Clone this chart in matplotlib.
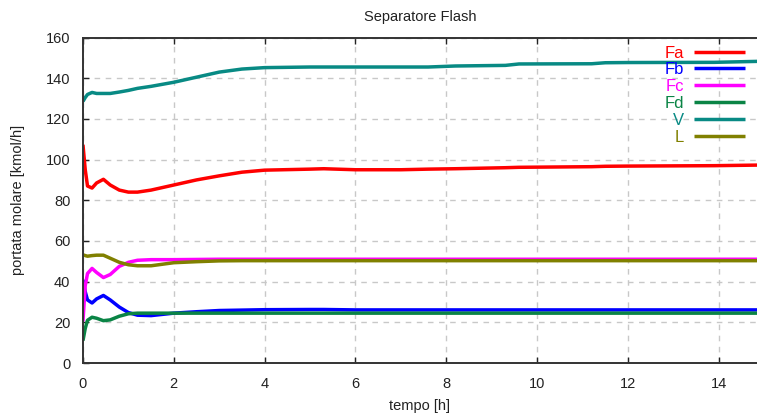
import numpy as np
import matplotlib.pyplot as plt

plt.rcParams['font.family'] = ['Liberation Sans Narrow', 'Liberation Sans', 'DejaVu Sans']

# tempo [h]
t = [0, 0.05, 0.1, 0.2, 0.3, 0.45, 0.6, 0.8, 1.0, 1.2, 1.5, 2.0, 2.5, 3.0, 3.5,
     4.0, 5.0, 5.3, 6.0, 7.0, 7.6, 8.2, 9.3, 9.6, 11.2, 11.5, 12.0, 13.9, 14.9]

# portate molari [kmol/h]
Fa = [107.3, 95, 87, 86, 88.5, 90.3, 87.5, 85, 84, 84, 85, 87.5, 90, 92, 93.8,
      94.8, 95.3, 95.5, 95, 95, 95.3, 95.5, 96, 96.2, 96.5, 96.7, 96.8, 97, 97.3]
Fb = [40.9, 35, 31, 29.5, 31.5, 33.2, 31, 27.5, 24.8, 23.5, 23.3, 24.5, 25.2, 25.8, 26,
      26.2, 26.3, 26.3, 26.1, 26.1, 26.1, 26.1, 26.1, 26.1, 26.1, 26.1, 26.1, 26.1, 26.1]
Fc = [20.5, 38, 44, 46.5, 44.5, 42, 43.5, 47.5, 49.5, 50.5, 50.8, 50.8, 50.9, 51, 51,
      51, 51, 51, 51, 51, 51, 51, 51, 51, 51, 51, 51, 51, 51]
Fd = [11, 17, 21, 22.5, 22, 20.8, 21.2, 23, 24.2, 24.5, 24.5, 24.5, 24.5, 24.5, 24.5,
      24.5, 24.5, 24.5, 24.5, 24.5, 24.5, 24.5, 24.5, 24.5, 24.5, 24.5, 24.5, 24.5, 24.5]
V = [128.6, 130.5, 132, 133, 132.5, 132.5, 132.5, 133.2, 134, 135, 136, 138, 140.5, 143, 144.5,
     145.2, 145.5, 145.5, 145.5, 145.5, 145.5, 146, 146.3, 147, 147.1, 147.6, 147.7, 147.8, 148.3]
L = [53.2, 52.8, 52.5, 52.8, 53, 53, 51.5, 49.5, 48.3, 47.8, 47.8, 49.3, 49.8, 50.2, 50.3,
     50.3, 50.3, 50.3, 50.3, 50.3, 50.3, 50.3, 50.3, 50.3, 50.3, 50.3, 50.3, 50.3, 50.3]

series = [('Fa', Fa, '#ff0000'), ('Fb', Fb, '#0000ff'), ('Fc', Fc, '#ff00ff'),
          ('Fd', Fd, '#0a8445'), ('V', V, '#088a84'), ('L', L, '#808000')]

fig = plt.figure(figsize=(7.57, 4.15), dpi=100)
ax = fig.add_axes([0.1096, 0.1253, 0.8904, 0.7843])

for name, y, c in series:
    ax.plot(t, y, color=c, lw=2.5, label=name, solid_capstyle='butt')

ax.set_xlim(0, 14.84)
ax.set_ylim(0, 160)
ax.set_xticks(np.arange(0, 15, 2))
ax.set_yticks(np.arange(0, 161, 20))
ax.grid(True, color='#c8c8c8', ls=(0, (4, 4)), lw=1)
ax.tick_params(direction='in', top=True, right=False, length=4, width=1,
               labelsize=10.5, colors='#222222', pad=9)
ax.tick_params(axis='x', pad=10)
for s in ['left', 'bottom', 'top']:
    ax.spines[s].set_linewidth(1.4)
    ax.spines[s].set_color('#333333')
ax.spines['right'].set_visible(False)

ax.set_title('Separatore Flash', fontsize=10.5, pad=12, color='#222222')
ax.set_xlabel('tempo [h]', fontsize=10.5, labelpad=6, color='#222222')
ax.set_ylabel('portata molare [kmol/h]', fontsize=10.5, labelpad=15, color='#222222')

leg = ax.legend(loc='upper right', bbox_to_anchor=(745 / 757, 1 - 45.5 / 415),
                bbox_transform=fig.transFigure, frameon=False, markerfirst=False,
                fontsize=12, handlelength=3.05, handletextpad=0.6,
                labelspacing=0.11, labelcolor='linecolor', borderpad=0, borderaxespad=0)
for txt in leg.get_texts():
    txt.set_ha('right')

fig.savefig('out.png', dpi=100)
